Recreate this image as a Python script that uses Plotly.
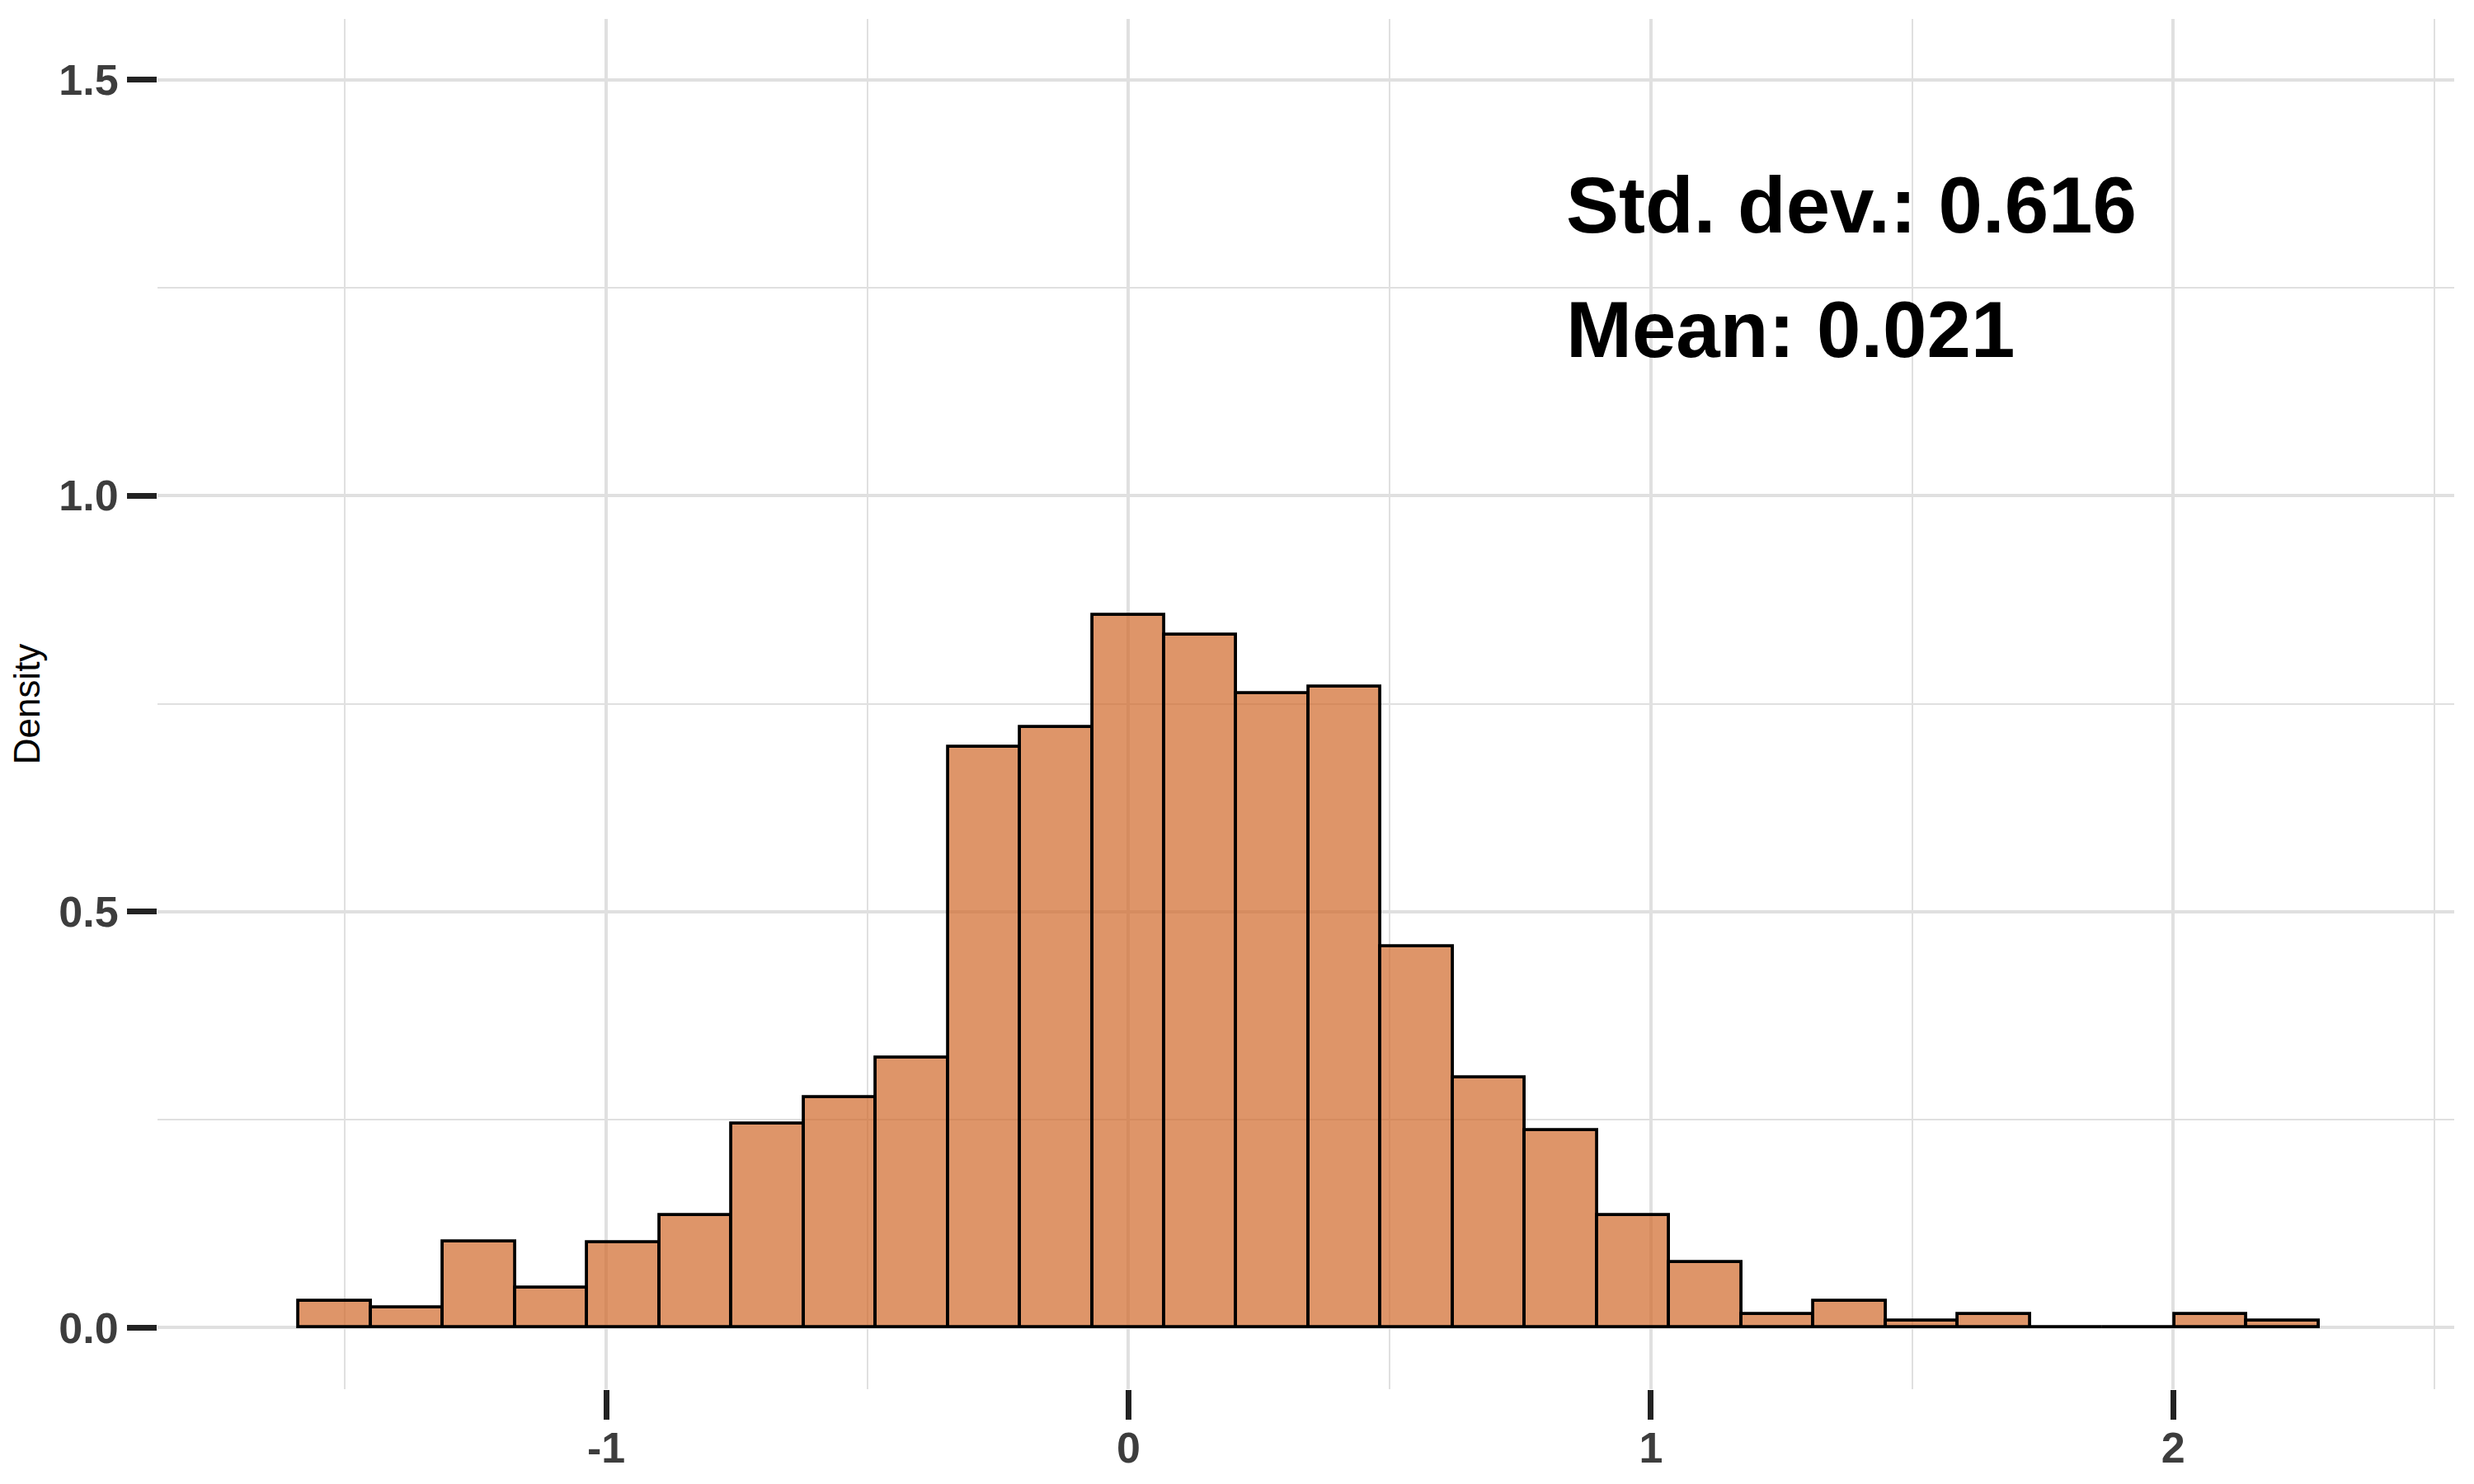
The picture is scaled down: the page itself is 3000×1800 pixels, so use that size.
import numpy as np
import plotly.graph_objects as go

# Histogram bins (regular width) and density values
bin_start = -1.5885
bin_width = 0.1381
density = [0.032, 0.024, 0.103, 0.048, 0.102, 0.135, 0.245, 0.277, 0.324,
           0.698, 0.722, 0.857, 0.833, 0.762, 0.770, 0.458, 0.301, 0.237,
           0.135, 0.079, 0.016, 0.032, 0.008, 0.016, 0.0, 0.0, 0.016, 0.008]

x_ticks = [-1, 0, 1, 2]
y_ticks = [0.0, 0.5, 1.0, 1.5]
y_tick_text = ["0.0", "0.5", "1.0", "1.5"]

stats_text = ["Std. dev.: 0.616", "Mean: 0.021"]
stats_y = [1.35, 1.2]
stats_x = 0.834

centers = bin_start + bin_width * (np.arange(len(density)) + 0.5)

fig = go.Figure()
fig.add_trace(go.Bar(
    x=centers, y=density, width=bin_width,
    marker=dict(color="rgba(208,104,42,0.70)",
                line=dict(color="black", width=3.8)),
    showlegend=False, hoverinfo="x+y",
))

for t, yy in zip(stats_text, stats_y):
    fig.add_annotation(x=stats_x, y=yy, text="<b>%s</b>" % t, showarrow=False,
                       xanchor="left", yanchor="middle",
                       font=dict(family="Liberation Sans, Arial, sans-serif",
                                 size=96, color="black"))

grid_c = "#e0e0e0"
tickfont = dict(family="Liberation Sans, Arial, sans-serif", size=52,
                color="#3d3d3d", weight="bold")

fig.update_layout(
    width=3000, height=1800,
    paper_bgcolor="white", plot_bgcolor="white",
    margin=dict(l=183, r=32, t=15, b=123, autoexpand=False),
    bargap=0,
    xaxis=dict(range=[-1.859, 2.538], tickvals=x_ticks,
               ticktext=[str(v) for v in x_ticks],
               showgrid=True, gridcolor=grid_c, gridwidth=3.5,
               zeroline=False, showline=False,
               ticks="outside", ticklen=36, tickwidth=7, tickcolor="#222222",
               tickfont=tickfont, ticklabelstandoff=-10,
               minor=dict(tickvals=[-1.5, -0.5, 0.5, 1.5, 2.5], showgrid=True,
                          gridcolor=grid_c, gridwidth=2, ticks="")),
    yaxis=dict(range=[-0.074, 1.573], tickvals=y_ticks, ticktext=y_tick_text,
               showgrid=True, gridcolor=grid_c, gridwidth=3.5,
               zeroline=False, showline=False,
               ticks="outside", ticklen=36, tickwidth=7, tickcolor="#222222",
               tickfont=tickfont,
               title=dict(text="Density", standoff=16,
                          font=dict(family="Liberation Sans, Arial, sans-serif",
                                    size=44, color="black")),
               minor=dict(tickvals=[0.25, 0.75, 1.25], showgrid=True,
                          gridcolor=grid_c, gridwidth=2, ticks="")),
    font=dict(family="Liberation Sans, Arial, sans-serif"),
)

fig.write_html("out.html")
